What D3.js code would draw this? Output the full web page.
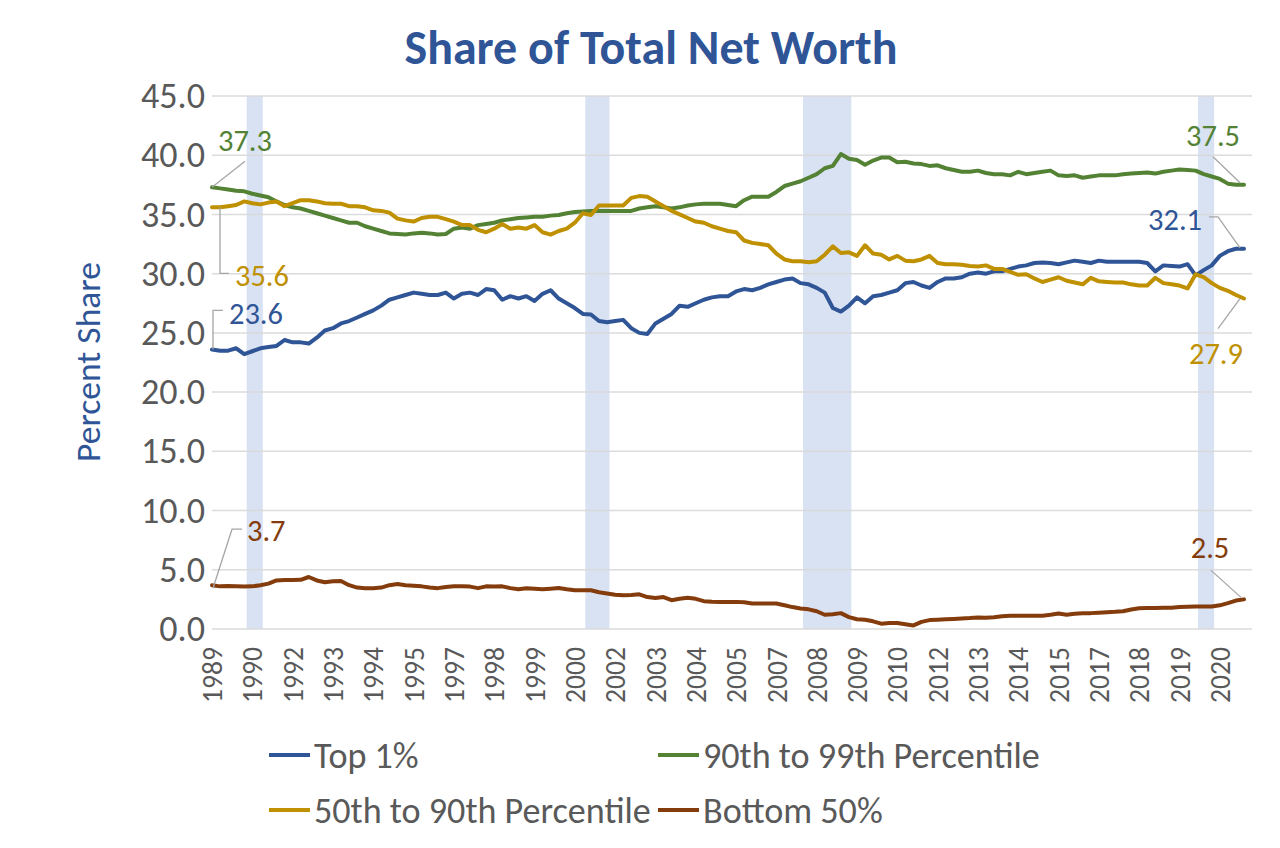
<!DOCTYPE html>
<html><head><meta charset="utf-8">
<script src="https://cdn.jsdelivr.net/npm/d3@7"></script>
<style>
html,body{margin:0;padding:0;background:#fff;}
svg{display:block;}
text{font-family: Carlito, Calibri, Lato, "Open Sans", sans-serif;}
</style></head><body>
<svg id="chart" width="1280" height="848"></svg>
<script>
// ---- categories: quarters 1989Q3 .. 2021Q3 ----
const quarters = [];
for (let y = 1989; y <= 2021; y++) for (let q = 1; q <= 4; q++) {
  if ((y === 1989 && q < 3) || (y === 2021 && q > 3)) continue;
  quarters.push(y + "Q" + q);
}
// tick labels shown every 5th quarter
const xTickLabels = ["1989","1990","1992","1993","1994","1995","1997","1998","1999","2000","2002","2003","2004","2005","2007","2008","2009","2010","2012","2013","2014","2015","2017","2018","2019","2020"];
const yTicks = [0,5,10,15,20,25,30,35,40,45];

const top1 = [
23.6,23.5,23.5,23.7,23.2,23.45,23.7,23.8,23.9,24.4,
24.2,24.2,24.1,24.6,25.2,25.4,25.8,26.0,26.3,26.6,
26.9,27.3,27.8,28.0,28.2,28.4,28.3,28.2,28.2,28.4,
27.9,28.3,28.4,28.2,28.7,28.6,27.8,28.1,27.9,28.1,
27.7,28.3,28.6,27.9,27.5,27.1,26.6,26.55,26.0,25.9,
26.0,26.1,25.4,25.0,24.9,25.8,26.2,26.6,27.3,27.2,
27.5,27.8,28.0,28.1,28.1,28.5,28.7,28.6,28.8,29.1,
29.3,29.5,29.6,29.2,29.1,28.8,28.4,27.1,26.8,27.3,
28.0,27.5,28.1,28.2,28.4,28.6,29.2,29.3,29.0,28.8,
29.3,29.6,29.6,29.7,30.0,30.1,30.0,30.2,30.2,30.4,
30.6,30.7,30.9,30.95,30.9,30.8,30.95,31.1,31.0,30.9,
31.1,31.0,31.0,31.0,31.0,31.0,30.9,30.2,30.7,30.65,
30.6,30.8,29.85,30.3,30.7,31.5,31.9,32.1,32.1];

const p90to99 = [
37.3,37.2,37.1,37.0,36.95,36.75,36.6,36.45,36.1,35.8,
35.6,35.5,35.3,35.1,34.9,34.7,34.5,34.3,34.3,34.0,
33.8,33.6,33.4,33.35,33.3,33.4,33.45,33.4,33.3,33.35,
33.8,33.9,33.8,34.1,34.2,34.3,34.5,34.6,34.7,34.75,
34.8,34.8,34.9,34.95,35.1,35.2,35.25,35.3,35.3,35.3,
35.3,35.3,35.3,35.5,35.6,35.7,35.6,35.5,35.6,35.75,
35.85,35.9,35.9,35.9,35.8,35.7,36.2,36.5,36.5,36.5,
36.9,37.4,37.6,37.8,38.1,38.4,38.9,39.1,40.1,39.7,
39.6,39.2,39.55,39.8,39.8,39.4,39.45,39.3,39.25,39.1,
39.15,38.9,38.75,38.6,38.6,38.7,38.5,38.4,38.4,38.3,
38.6,38.4,38.5,38.6,38.7,38.3,38.25,38.3,38.1,38.2,
38.3,38.3,38.3,38.4,38.45,38.5,38.55,38.45,38.6,38.7,
38.8,38.75,38.7,38.4,38.2,38.0,37.6,37.5,37.5];

const p50to90 = [
35.6,35.6,35.7,35.8,36.1,35.95,35.85,36.0,36.1,35.7,
35.95,36.2,36.2,36.1,35.95,35.9,35.9,35.7,35.7,35.6,
35.35,35.3,35.15,34.65,34.5,34.4,34.7,34.8,34.8,34.6,
34.4,34.1,34.1,33.7,33.5,33.8,34.2,33.8,33.9,33.8,
34.1,33.5,33.3,33.6,33.8,34.3,35.1,34.95,35.75,35.75,
35.75,35.75,36.4,36.55,36.5,36.1,35.7,35.3,35.0,34.7,
34.4,34.3,34.0,33.8,33.6,33.5,32.8,32.6,32.5,32.4,
31.7,31.2,31.05,31.05,30.97,31.05,31.6,32.3,31.75,31.8,
31.5,32.4,31.7,31.6,31.2,31.5,31.1,31.05,31.2,31.5,
30.9,30.8,30.8,30.75,30.65,30.6,30.7,30.4,30.4,30.15,
29.9,29.95,29.6,29.3,29.5,29.7,29.4,29.25,29.1,29.65,
29.35,29.3,29.26,29.26,29.1,29.0,29.0,29.65,29.2,29.1,
29.0,28.75,29.95,29.7,29.2,28.8,28.55,28.2,27.9];

const bottom50 = [
3.7,3.6,3.62,3.6,3.58,3.6,3.7,3.83,4.1,4.13,
4.13,4.15,4.39,4.1,3.95,4.03,4.05,3.7,3.5,3.45,
3.45,3.5,3.7,3.8,3.7,3.65,3.6,3.5,3.45,3.55,
3.6,3.6,3.58,3.45,3.6,3.58,3.6,3.45,3.35,3.44,
3.4,3.35,3.4,3.46,3.35,3.27,3.27,3.27,3.1,3.0,
2.9,2.85,2.87,2.93,2.7,2.62,2.7,2.43,2.55,2.63,
2.55,2.35,2.3,2.29,2.29,2.29,2.25,2.15,2.15,2.15,
2.15,2.0,1.85,1.73,1.66,1.5,1.2,1.25,1.34,1.0,
0.82,0.78,0.65,0.45,0.5,0.5,0.4,0.3,0.6,0.75,
0.78,0.82,0.85,0.88,0.92,0.98,0.95,1.0,1.08,1.12,
1.12,1.12,1.12,1.12,1.2,1.3,1.2,1.28,1.32,1.34,
1.38,1.42,1.45,1.5,1.65,1.76,1.77,1.78,1.79,1.8,
1.85,1.88,1.9,1.9,1.9,2.0,2.18,2.4,2.5];

// shaded recession periods (start quarter, end quarter)
const recessions = [["1990Q3","1991Q1"],["2001Q1","2001Q4"],["2007Q4","2009Q2"],["2020Q1","2020Q3"]];

const seriesNames = ["Top 1%","90th to 99th Percentile","50th to 90th Percentile","Bottom 50%"];
const seriesValues = [top1, p90to99, p50to90, bottom50];
const seriesColors = ["#2F5597","#548235","#BF9000","#843C0C"];

// ---- layout ----
const svg = d3.select("#chart");
const x = d3.scalePoint().domain(quarters).range([212, 1244]);
const step = x.step();
const y = d3.scaleLinear().domain([0, 45]).range([629, 96]);
const plotRight = x.range()[1] + step;

function fitSize(sample, target, weight) {
  const base = 40;
  const t = svg.append("text").attr("font-size", base).attr("font-weight", weight || 400).text(sample);
  const w = t.node().getComputedTextLength(); t.remove();
  return base * target / w;
}
const fsTitle = fitSize("Share of Total Net Worth", 493, 700);
const fsYTick = fitSize("45.0", 64);
const fsXTick = fitSize("1989", 56);
const fsYTitle = fitSize("Percent Share", 200);
const fsLegend = fitSize("90th to 99th Percentile", 337);
const fsLabel = fitSize("37.3", 54);

// recession shading
svg.append("g").selectAll("rect").data(recessions).join("rect")
  .attr("x", d => x(d[0]) + 0.3 * step)
  .attr("width", d => x(d[1]) - x(d[0]))
  .attr("y", y(45)).attr("height", y(0) - y(45))
  .attr("fill", "#D9E2F3");

// gridlines
svg.append("g").selectAll("line").data(yTicks).join("line")
  .attr("x1", x.range()[0]).attr("x2", plotRight)
  .attr("y1", d => y(d)).attr("y2", d => y(d))
  .attr("stroke", "#D9D9D9").attr("stroke-width", 1.5).attr("opacity", 0.9);

// y axis
const yAxis = svg.append("g").attr("transform", "translate(205,0)")
  .call(d3.axisLeft(y).tickValues(yTicks).tickFormat(d3.format(".1f")).tickSize(0).tickPadding(0));
yAxis.select(".domain").remove();
yAxis.selectAll("text").attr("font-size", fsYTick).attr("fill", "#595959")
  .style("font-family", "Carlito, Calibri, Lato, 'Open Sans', sans-serif");

// x axis (ticks every 5th quarter)
const tickQs = quarters.filter((q, i) => i % 5 === 0);
const xAxis = svg.append("g").attr("transform", "translate(0,647)")
  .call(d3.axisBottom(x).tickValues(tickQs).tickFormat((q) => xTickLabels[tickQs.indexOf(q)]).tickSize(0).tickPadding(0));
xAxis.select(".domain").remove();
xAxis.selectAll("text")
  .attr("font-size", fsXTick).attr("fill", "#595959")
  .style("font-family", "Carlito, Calibri, Lato, 'Open Sans', sans-serif")
  .attr("text-anchor", "end").attr("transform", "rotate(-90)")
  .attr("x", 0).attr("y", 0).attr("dy", "0.35em");

// lines
const line = d3.line().x((d, i) => x(quarters[i])).y(d => y(d)).curve(d3.curveLinear);
svg.append("g").selectAll("path").data(seriesValues).join("path")
  .attr("d", d => line(d)).attr("fill", "none")
  .attr("stroke", (d, i) => seriesColors[i]).attr("stroke-width", 4)
  .attr("stroke-linejoin", "round").attr("stroke-linecap", "round");

// data labels with leader lines
const ann = [
  {s:1, end:false, path:[[0,0],[33,-26]], lx:6, ly:-47, anchor:"start"},
  {s:2, end:false, path:[[8,0],[8,66],[17,66]], lx:23, ly:68, anchor:"start"},
  {s:0, end:false, path:[[1,0],[1,-39],[11,-39]], lx:17, ly:-36, anchor:"start"},
  {s:3, end:false, path:[[1,3],[20,-56],[30,-56]], lx:35, ly:-55, anchor:"start"},
  {s:1, end:true, path:[[-31,-28],[-4,-2]], lx:-4, ly:-49, anchor:"end"},
  {s:0, end:true, path:[[-35,-32],[-26,-32],[-4,-1]], lx:-42, ly:-29, anchor:"end"},
  {s:2, end:true, path:[[-4,0],[-26,30]], lx:-28, ly:55, anchor:"middle"},
  {s:3, end:true, path:[[-33,-29],[-3,-2]], lx:-34, ly:-52, anchor:"middle"}
];
const gA = svg.append("g");
ann.forEach(a => {
  const vals = seriesValues[a.s];
  const idx = a.end ? vals.length - 1 : 0;
  const px = x(quarters[idx]), py = y(vals[idx]);
  gA.append("path")
    .attr("d", d3.line()(a.path.map(p => [px + p[0], py + p[1]])))
    .attr("fill", "none").attr("stroke", "#A6A6A6").attr("stroke-width", 1.3);
  gA.append("text").attr("x", px + a.lx).attr("y", py + a.ly).attr("dy", "0.35em")
    .attr("text-anchor", a.anchor).attr("font-size", fsLabel)
    .attr("fill", seriesColors[a.s]).text(d3.format(".1f")(vals[idx]));
});

// title
svg.append("text").attr("x", 651).attr("y", 47).attr("dy", "0.35em")
  .attr("text-anchor", "middle").attr("font-size", fsTitle).attr("font-weight", 700)
  .attr("fill", "#2F5597").text("Share of Total Net Worth");

// y axis title
svg.append("text").attr("transform", "translate(88,362) rotate(-90)").attr("dy", "0.35em")
  .attr("text-anchor", "middle").attr("font-size", fsYTitle)
  .attr("fill", "#2F5597").text("Percent Share");

// legend
const legendPos = [[269, 755], [658, 755], [269, 810], [658, 810]];
const gL = svg.append("g");
seriesNames.forEach((name, i) => {
  const [lx, ly] = legendPos[i];
  gL.append("line").attr("x1", lx).attr("x2", lx + 41).attr("y1", ly).attr("y2", ly)
    .attr("stroke", seriesColors[i]).attr("stroke-width", 4);
  gL.append("text").attr("x", lx + 45).attr("y", ly).attr("dy", "0.35em")
    .attr("font-size", fsLegend).attr("fill", "#595959").text(name);
});
</script>
</body></html>
